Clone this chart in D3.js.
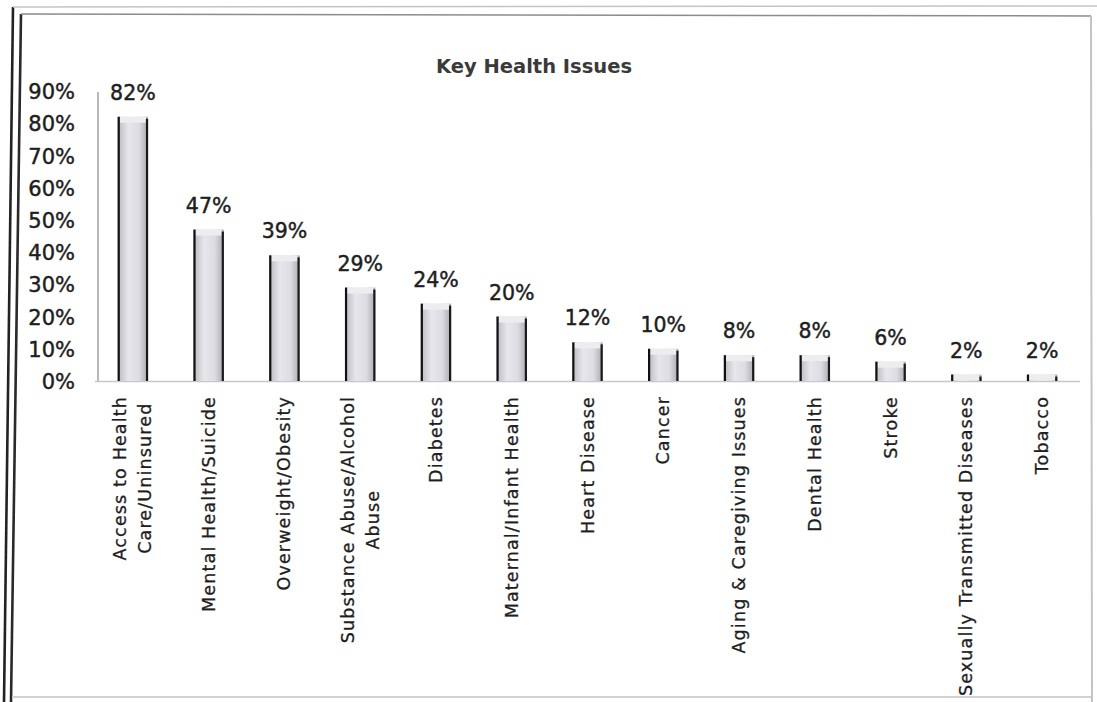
<!DOCTYPE html>
<html>
<head>
<meta charset="utf-8">
<script src="https://cdn.jsdelivr.net/npm/d3@7/dist/d3.min.js"></script>
<style>
  html, body { margin: 0; padding: 0; background: #fff; }
  svg { display: block; }
  text { font-family: "DejaVu Sans", sans-serif; fill: #1e1e1e; }
</style>
</head>
<body>
<svg id="chart" width="1097" height="702"></svg>
<script>
// Survey results: share of respondents naming each key health issue
const categories = [
  "Access to Health\nCare/Uninsured",
  "Mental Health/Suicide",
  "Overweight/Obesity",
  "Substance Abuse/Alcohol\nAbuse",
  "Diabetes",
  "Maternal/Infant Health",
  "Heart Disease",
  "Cancer",
  "Aging & Caregiving Issues",
  "Dental Health",
  "Stroke",
  "Sexually Transmitted Diseases",
  "Tobacco"
];
const values = [0.82, 0.47, 0.39, 0.29, 0.24, 0.20, 0.12, 0.10, 0.08, 0.08, 0.06, 0.02, 0.02];
const yTicks = [0, 0.1, 0.2, 0.3, 0.4, 0.5, 0.6, 0.7, 0.8, 0.9];
const title = "Key Health Issues";

const svg = d3.select("#chart");

// Page frame: double rule on the left and top, faint rule right and bottom
const frame = svg.append("g").attr("fill", "none");
frame.append("line").attr("x1", 13).attr("y1", 7).attr("x2", 4).attr("y2", 702)
  .attr("stroke", "#222").attr("stroke-width", 2.6);
frame.append("line").attr("x1", 21).attr("y1", 14).attr("x2", 11).attr("y2", 702)
  .attr("stroke", "#2a2a2a").attr("stroke-width", 2.6);
frame.append("line").attr("x1", 13).attr("y1", 7).attr("x2", 1097).attr("y2", 6)
  .attr("stroke", "#c4c4c4").attr("stroke-width", 1.5);
frame.append("line").attr("x1", 21).attr("y1", 14).attr("x2", 1091).attr("y2", 16)
  .attr("stroke", "#8c8c8c").attr("stroke-width", 1.5);
frame.append("line").attr("x1", 1091).attr("y1", 16).attr("x2", 1092).attr("y2", 702)
  .attr("stroke", "#c4c4c4").attr("stroke-width", 2);
frame.append("line").attr("x1", 12).attr("y1", 697).attr("x2", 1091).attr("y2", 697)
  .attr("stroke", "#d2d2d2").attr("stroke-width", 2);

// Scales
const x = d3.scaleBand().domain(categories).range([95, 1080])
  .paddingInner(0.6).paddingOuter(0.3);
const y = d3.scaleLinear().domain([0, 0.9]).range([381, 91]);

// Slight stroke thickens the glyphs to a medium weight
const ink = sel => sel.style("stroke", "#1e1e1e").style("stroke-width", 0.45);

// Title
svg.append("text")
  .attr("x", 534).attr("y", 73)
  .attr("text-anchor", "middle")
  .attr("font-size", 19.5).attr("font-weight", "bold")
  .style("fill", "#3a3a3a")
  .text(title);

// Y axis: labels only, with a thin vertical rule
const yAxis = d3.axisLeft(y).tickValues(yTicks).tickSize(0).tickPadding(0)
  .tickFormat(d3.format(".0%"));
const gy = svg.append("g").attr("transform", "translate(75,0)").call(yAxis);
gy.select(".domain").remove();
gy.selectAll("text")
  .attr("font-size", 21)
  .attr("font-family", "DejaVu Sans, sans-serif")
  .attr("dy", "0.36em")
  .style("fill", "#1e1e1e")
  .call(ink);

svg.append("line")
  .attr("x1", 98).attr("x2", 98).attr("y1", 92).attr("y2", y(0))
  .attr("stroke", "#8a8a8a").attr("stroke-width", 1.2);

// Baseline
svg.append("line")
  .attr("x1", 95).attr("x2", 1080).attr("y1", y(0) + 0.5).attr("y2", y(0) + 0.5)
  .attr("stroke", "#c8c8c8").attr("stroke-width", 1.5);

// Bar shading: pale cylinder-like gradient
const defs = svg.append("defs");
const grad = defs.append("linearGradient").attr("id", "barFill")
  .attr("x1", "0%").attr("x2", "100%").attr("y1", "0%").attr("y2", "0%");
grad.append("stop").attr("offset", "0%").attr("stop-color", "#b9b9c0");
grad.append("stop").attr("offset", "35%").attr("stop-color", "#e6e6ec");
grad.append("stop").attr("offset", "70%").attr("stop-color", "#dcdce2");
grad.append("stop").attr("offset", "100%").attr("stop-color", "#a9a9b0");

const bars = svg.append("g").selectAll("g.bar")
  .data(categories.map((c, i) => ({ c, v: values[i] })))
  .join("g").attr("class", "bar");

bars.append("rect")
  .attr("x", d => x(d.c))
  .attr("y", d => y(d.v))
  .attr("width", x.bandwidth())
  .attr("height", d => y(0) - y(d.v))
  .attr("fill", "url(#barFill)");

// top cap highlight
bars.append("rect")
  .attr("x", d => x(d.c) + 2)
  .attr("y", d => y(d.v))
  .attr("width", x.bandwidth() - 4)
  .attr("height", d => Math.min(6, y(0) - y(d.v)))
  .attr("fill", "#ededf0");

// dark side edges
bars.append("line")
  .attr("x1", d => x(d.c) + 1).attr("x2", d => x(d.c) + 1)
  .attr("y1", d => y(d.v)).attr("y2", y(0))
  .attr("stroke", "#111").attr("stroke-width", 2.2);
bars.append("line")
  .attr("x1", d => x(d.c) + x.bandwidth() - 1).attr("x2", d => x(d.c) + x.bandwidth() - 1)
  .attr("y1", d => y(d.v) + 2).attr("y2", y(0))
  .attr("stroke", "#1a1a1a").attr("stroke-width", 2.2);

// Value labels
bars.append("text")
  .attr("x", d => x(d.c) + x.bandwidth() / 2)
  .attr("y", d => y(d.v) - 17)
  .attr("text-anchor", "middle")
  .attr("font-size", 20.5)
  .text(d => d3.format(".0%")(d.v))
  .call(ink);

// Category labels, rotated, top-aligned just under the baseline
const labelTop = 396;
const lineGap = 25;
const catG = svg.append("g");
categories.forEach(c => {
  const lines = c.split("\n");
  const cx = x(c) + x.bandwidth() / 2;
  const g = catG.append("g");
  const texts = lines.map(ln => g.append("text")
    .attr("font-size", 17.5)
    .attr("letter-spacing", 1.15)
    .attr("dominant-baseline", "central")
    .style("stroke", "#1e1e1e").style("stroke-width", 0.3)
    .text(ln));
  const maxLen = d3.max(texts, t => t.node().getComputedTextLength());
  const center = labelTop + maxLen / 2;
  texts.forEach((t, i) => {
    const off = (i - (lines.length - 1) / 2) * lineGap;
    t.attr("text-anchor", "middle")
     .attr("transform", `translate(${cx + off},${center}) rotate(-90)`);
  });
});
</script>
</body>
</html>
